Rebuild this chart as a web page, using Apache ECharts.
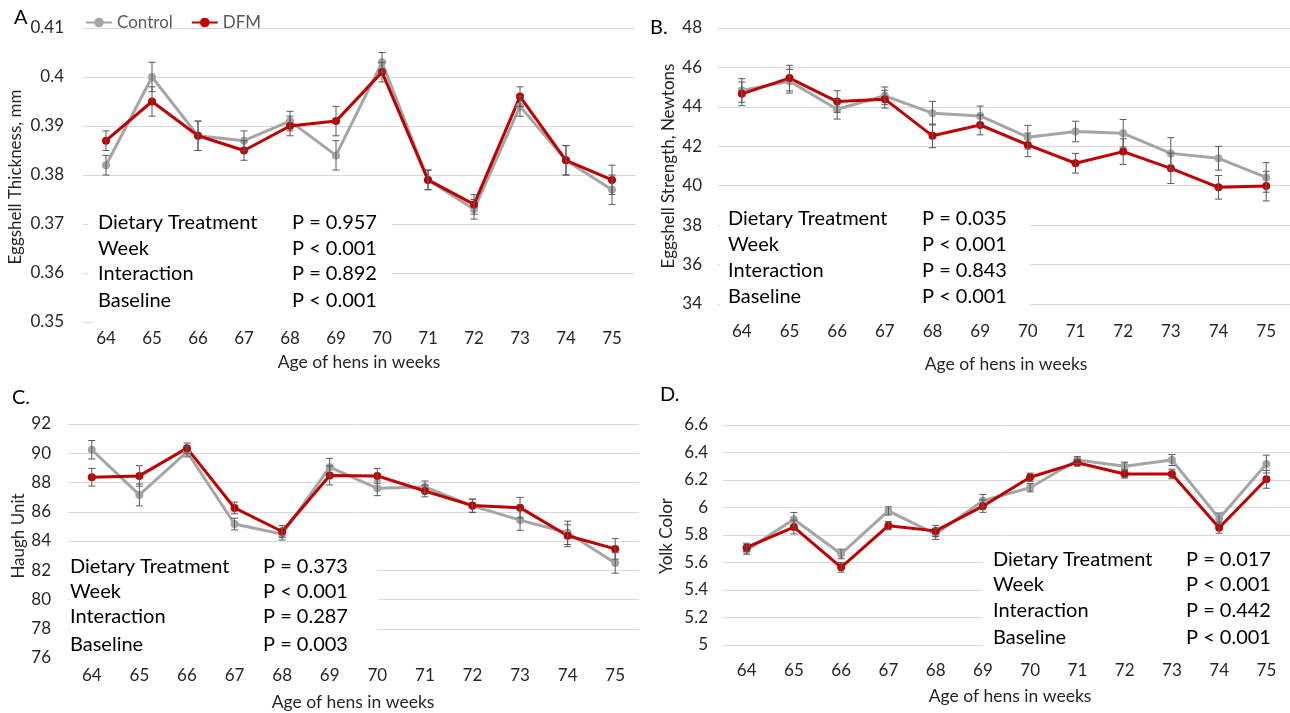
<!DOCTYPE html>
<html>
<head>
<meta charset="utf-8">
<script src="https://cdn.jsdelivr.net/npm/echarts@6/dist/echarts.min.js"></script>
<style>
html,body{margin:0;padding:0;background:#fff;}
#chart{width:1290px;height:713px;}
</style>
</head>
<body>
<div id="chart"></div>
<script>
// ---------- DATA ----------
const weeks = ['64','65','66','67','68','69','70','71','72','73','74','75'];
const seriesNames = ['Control','DFM'];

// A. Eggshell thickness (mm)
const thickControl   = [0.382,0.400,0.388,0.387,0.391,0.384,0.403,0.379,0.373,0.394,0.383,0.377];
const thickDFM       = [0.387,0.395,0.388,0.385,0.390,0.391,0.401,0.379,0.374,0.396,0.383,0.379];
const thickControlSE = [0.002,0.003,0.003,0.002,0.002,0.003,0.002,0.002,0.002,0.002,0.003,0.003];
const thickDFMSE     = [0.002,0.003,0.003,0.002,0.002,0.003,0.002,0.002,0.002,0.002,0.003,0.003];

// B. Eggshell strength (Newtons)
const strengthControl   = [44.83,45.30,43.88,44.56,43.68,43.54,42.46,42.75,42.66,41.64,41.39,40.42];
const strengthDFM       = [44.66,45.46,44.27,44.39,42.53,43.08,42.07,41.14,41.73,40.88,39.92,39.98];
const strengthControlSE = [0.60,0.60,0.50,0.45,0.60,0.50,0.60,0.52,0.70,0.80,0.60,0.75];
const strengthDFMSE     = [0.60,0.65,0.55,0.45,0.60,0.50,0.60,0.50,0.65,0.77,0.60,0.75];

// C. Haugh unit
const haughControl   = [90.24,87.15,90.10,85.16,84.47,89.05,87.60,87.70,86.40,85.43,84.56,82.50];
const haughDFM       = [88.36,88.45,90.35,86.26,84.65,88.48,88.45,87.42,86.42,86.28,84.36,83.46];
const haughControlSE = [0.63,0.75,0.35,0.40,0.40,0.60,0.50,0.40,0.45,0.70,0.80,0.70];
const haughDFMSE     = [0.60,0.70,0.35,0.40,0.40,0.65,0.50,0.40,0.45,0.70,0.75,0.70];

// D. Yolk color
const yolkControl   = [5.690,5.914,5.662,5.975,5.807,6.050,6.144,6.345,6.300,6.345,5.920,6.316];
const yolkDFM       = [5.710,5.858,5.565,5.868,5.830,6.010,6.220,6.326,6.244,6.244,5.853,6.205];
const yolkControlSE = [0.030,0.050,0.035,0.030,0.040,0.045,0.030,0.025,0.030,0.040,0.040,0.065];
const yolkDFMSE     = [0.030,0.050,0.035,0.030,0.040,0.045,0.030,0.025,0.030,0.035,0.040,0.065];

// Stats text
const statLabels = ['Dietary Treatment','Week','Interaction','Baseline'];
const thickP    = ['P = 0.957','P < 0.001','P = 0.892','P < 0.001'];
const strengthP = ['P = 0.035','P < 0.001','P = 0.843','P < 0.001'];
const haughP    = ['P = 0.373','P < 0.001','P = 0.287','P = 0.003'];
const yolkP     = ['P = 0.017','P < 0.001','P = 0.442','P < 0.001'];

const panelLetters = ['A','B.','C.','D.'];
const yTitles = ['Eggshell Thickness, mm','Eggshell Strength, Newtons','Haugh Unit','Yolk Color'];
const xTitle = 'Age of hens in weeks';

// ---------- LAYOUT ----------
const FONT = 'Lato, "Open Sans", sans-serif';
const colControl = '#a5a5a5';
const colDFM = '#c00000';
const textCol = '#262626';

const panels = [
  { grid:{left:83, top:28, width:552, height:294}, y:{min:0.35,max:0.41,interval:0.01}, ylm:19, xlm:8,
    c:thickControl, d:thickDFM, cse:thickControlSE, dse:thickDFMSE, p:thickP,
    letter:[14,18], ytitle:[16,177], xtitle:[359,362],
    box:[88,205,304,112], extraBox:[93,318,550,8],
    txt:{lx:98, px:292, ys:[223,249,274,301]} },
  { grid:{left:718, top:28, width:585, height:276}, y:{min:34,max:48,interval:2}, ylm:16, xlm:19,
    c:strengthControl, d:strengthDFM, cse:strengthControlSE, dse:strengthDFMSE, p:strengthP,
    letter:[650,28], ytitle:[669,166], xtitle:[1006,364],
    box:[720,205,310,104], extraBox:null,
    txt:{lx:728, px:922, ys:[219,245,271,297]} },
  { grid:{left:68, top:424, width:571, height:234}, y:{min:76,max:92,interval:2}, ylm:17, xlm:9,
    c:haughControl, d:haughDFM, cse:haughControlSE, dse:haughDFMSE, p:haughP,
    letter:[12,398], ytitle:[19,536], xtitle:[353,702],
    box:[70,550,308,104], extraBox:[68,654,572,8],
    txt:{lx:70, px:263, ys:[567,592,617,645]} },
  { grid:{left:723, top:425, width:572, height:220}, y:{min:5,max:6.6,interval:0.2}, ylm:15, xlm:17,
    c:yolkControl, d:yolkDFM, cse:yolkControlSE, dse:yolkDFMSE, p:yolkP,
    letter:[660,395], ytitle:[667,536], xtitle:[1010,696],
    box:[982,548,320,104], extraBox:null,
    txt:{lx:993, px:1186, ys:[560,585,611,638]} }
];

function errRender(params, api) {
  const x = api.value(0);
  const lo = api.coord([x, api.value(1)]);
  const hi = api.coord([x, api.value(2)]);
  const cap = 3.5;
  const st = {stroke:'#595959', lineWidth:1};
  return {type:'group', children:[
    {type:'line', shape:{x1:lo[0],y1:lo[1],x2:hi[0],y2:hi[1]}, style:st},
    {type:'line', shape:{x1:lo[0]-cap,y1:lo[1],x2:lo[0]+cap,y2:lo[1]}, style:st},
    {type:'line', shape:{x1:hi[0]-cap,y1:hi[1],x2:hi[0]+cap,y2:hi[1]}, style:st}
  ]};
}

const grids = [], xAxes = [], yAxes = [], series = [], graphics = [];

panels.forEach((pn, i) => {
  grids.push(Object.assign({containLabel:false}, pn.grid));
  xAxes.push({
    type:'category', gridIndex:i, data:weeks, boundaryGap:true,
    axisLine:{show:false}, axisTick:{show:false},
    axisLabel:{color:textCol, fontFamily:FONT, fontSize:17, margin:pn.xlm}
  });
  yAxes.push({
    type:'value', gridIndex:i, min:pn.y.min, max:pn.y.max, interval:pn.y.interval,
    axisLine:{show:false}, axisTick:{show:false},
    axisLabel:{color:textCol, fontFamily:FONT, fontSize:17, margin:pn.ylm},
    splitLine:{lineStyle:{color:'#d9d9d9', width:1}}
  });
  const mk = (name, vals, col) => ({
    name, type:'line', xAxisIndex:i, yAxisIndex:i, data:vals,
    symbol:'circle', symbolSize:8, showSymbol:true,
    lineStyle:{color:col, width:3}, itemStyle:{color:col},
    z:3, animation:false
  });
  const mkErr = (name, vals, se) => ({
    name, type:'custom', xAxisIndex:i, yAxisIndex:i,
    data: vals.map((v,k)=>[k, v-se[k], v+se[k]]),
    encode:{x:0, y:[1,2]}, renderItem:errRender, z:4, silent:true, animation:false
  });
  series.push(mk('Control', pn.c, colControl));
  series.push(mkErr('Control', pn.c, pn.cse));
  series.push(mk('DFM', pn.d, colDFM));
  series.push(mkErr('DFM', pn.d, pn.dse));

  // white boxes hiding grid lines behind stats text
  graphics.push({type:'rect', shape:{x:pn.box[0], y:pn.box[1], width:pn.box[2], height:pn.box[3]},
    style:{fill:'#ffffff'}, z:1, silent:true});
  if (pn.extraBox) graphics.push({type:'rect', shape:{x:pn.extraBox[0], y:pn.extraBox[1], width:pn.extraBox[2], height:pn.extraBox[3]},
    style:{fill:'#ffffff'}, z:1, silent:true});

  statLabels.forEach((lab, r) => {
    graphics.push({type:'text', x:pn.txt.lx, y:pn.txt.ys[r], z:5,
      style:{text:lab, font:'20px '+FONT, fill:'#000', verticalAlign:'middle', align:'left'}});
    graphics.push({type:'text', x:pn.txt.px, y:pn.txt.ys[r], z:5,
      style:{text:pn.p[r], font:'20px '+FONT, fill:'#000', verticalAlign:'middle', align:'left'}});
  });
  graphics.push({type:'text', x:pn.letter[0], y:pn.letter[1], z:5,
    style:{text:panelLetters[i], font:'20px '+FONT, fill:'#000', verticalAlign:'middle', align:'left'}});
  graphics.push({type:'text', x:pn.ytitle[0], y:pn.ytitle[1], rotation:Math.PI/2, z:5,
    style:{text:yTitles[i], font:'17px '+FONT, fill:textCol, verticalAlign:'middle', align:'center'}});
  graphics.push({type:'text', x:pn.xtitle[0], y:pn.xtitle[1], z:5,
    style:{text:xTitle, font:'17.5px '+FONT, fill:textCol, verticalAlign:'middle', align:'center'}});
});

const chart = echarts.init(document.getElementById('chart'), null, {renderer:'canvas'});
chart.setOption({
  backgroundColor:'#ffffff',
  animation:false,
  legend:{
    data:seriesNames, left:85, top:14, padding:0, itemWidth:26, itemHeight:12, itemGap:18,
    textStyle:{fontFamily:FONT, fontSize:17, color:'#595959'}
  },
  grid:grids, xAxis:xAxes, yAxis:yAxes, series:series,
  graphic:graphics
});
</script>
</body>
</html>
